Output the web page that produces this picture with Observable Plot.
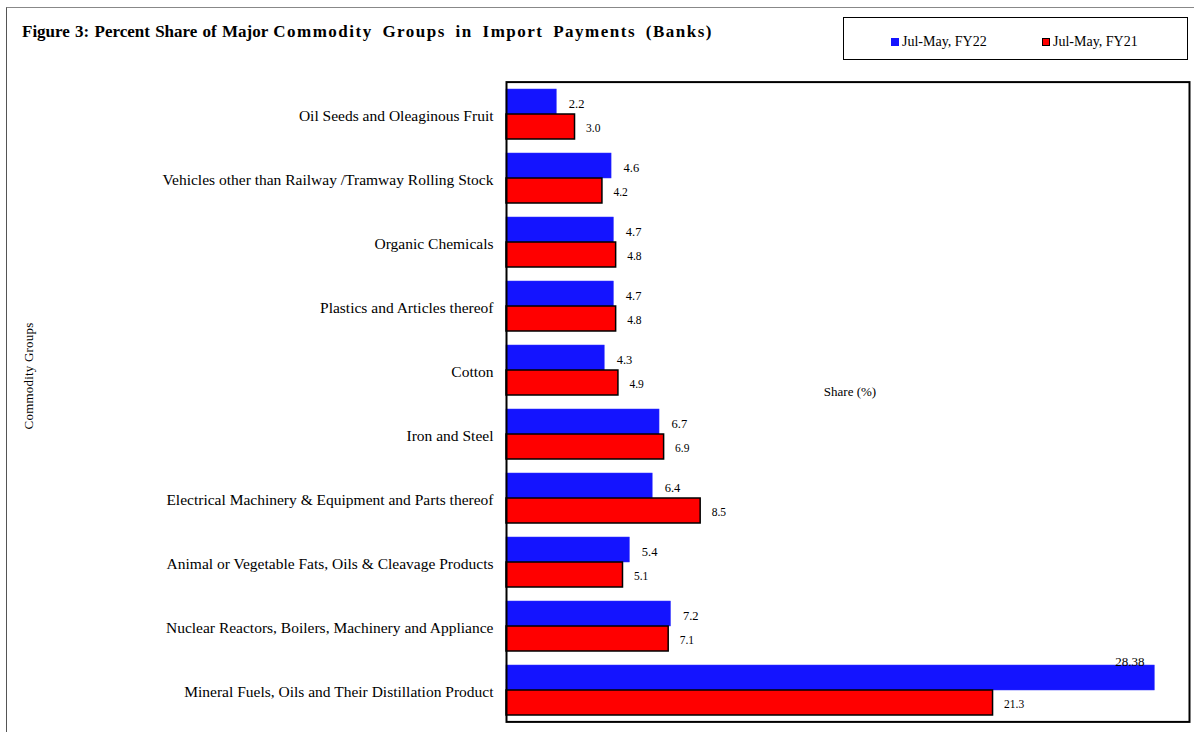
<!DOCTYPE html>
<html><head><meta charset="utf-8">
<script src="https://cdn.jsdelivr.net/npm/d3@7"></script>
<script src="https://cdn.jsdelivr.net/npm/@observablehq/plot@0.6"></script>
<style>
body{margin:0;background:#fff;font-family:"Liberation Serif","Times New Roman",serif;color:#000;}
#wrap{position:relative;width:1194px;height:732px;overflow:hidden;}
#outer{position:absolute;left:6px;top:7px;width:1200px;height:740px;border-left:1.5px solid #555;border-top:1.5px solid #888;box-sizing:border-box;}
#title{position:absolute;left:22px;top:22px;font-weight:bold;font-size:17px;line-height:20px;white-space:nowrap;word-spacing:1px;}
#title .wide{word-spacing:4px;letter-spacing:1.5px;}
#legend{position:absolute;left:843px;top:17px;width:345px;height:43px;border:1.5px solid #000;box-sizing:border-box;font-size:14px;}
.item{position:absolute;top:16px;line-height:16px;white-space:nowrap;}
.sw{display:inline-block;width:8px;height:8px;margin-right:3px;vertical-align:0px;box-sizing:border-box;}
#ylabel{position:absolute;left:28.5px;top:375.5px;transform:translate(-50%,-50%) rotate(-90deg);font-size:13px;letter-spacing:0.2px;white-space:nowrap;}
#chart{position:absolute;left:0;top:0;}
</style></head><body>
<div id="wrap">
  <div id="outer"></div>
  <div id="title">Figure 3: Percent Share of Major <span class="wide">Commodity Groups in Import Payments (Banks)</span></div>
  <div id="legend"></div>
  <div id="ylabel">Commodity Groups</div>
  <div id="chart"></div>
</div>
<script>
const categories = [
  "Oil Seeds and Oleaginous Fruit",
  "Vehicles other than Railway /Tramway Rolling Stock",
  "Organic Chemicals",
  "Plastics and Articles thereof",
  "Cotton",
  "Iron and Steel",
  "Electrical Machinery & Equipment and Parts thereof",
  "Animal or Vegetable Fats, Oils & Cleavage Products",
  "Nuclear Reactors, Boilers, Machinery and Appliance",
  "Mineral Fuels, Oils and Their Distillation Product"
];
const fy22 = [2.2, 4.6, 4.7, 4.7, 4.3, 6.7, 6.4, 5.4, 7.2, 28.38];
const fy21 = [3.0, 4.2, 4.8, 4.8, 4.9, 6.9, 8.5, 5.1, 7.1, 21.3];
const seriesNames = ["Jul-May, FY22", "Jul-May, FY21"];
const seriesColors = ["#1414ff", "#ff0000"];
const xTitle = "Share (%)";

const data = categories.flatMap((c, i) => [
  {category: c, series: seriesNames[0], value: fy22[i]},
  {category: c, series: seriesNames[1], value: fy21[i]}
]);
const fmt = v => v.toFixed(Math.max(1, (String(v).split(".")[1] || "").length));
const blue = data.filter(d => d.series === seriesNames[0]);
const red = data.filter(d => d.series === seriesNames[1]);

// legend
const lg = document.getElementById("legend");
[[890, 0], [1041, 1]].forEach(([x, i]) => {
  const it = document.createElement("div");
  it.className = "item";
  it.style.left = (x - 843) + "px";
  const sw = document.createElement("span");
  sw.className = "sw";
  sw.style.background = seriesColors[i];
  if (i === 1) sw.style.border = "1px solid #000";
  it.appendChild(sw);
  it.appendChild(document.createTextNode(seriesNames[i]));
  lg.appendChild(it);
});

const chart = Plot.plot({
  width: 1194,
  height: 732,
  marginTop: 82,
  marginBottom: 10,
  marginLeft: 506,
  marginRight: 5,
  style: {fontFamily: "'Liberation Serif', 'Times New Roman', serif", background: "transparent", color: "#000"},
  x: {domain: [0, 29.9], axis: null},
  y: {domain: seriesNames, axis: null, padding: 0},
  fy: {domain: categories, paddingInner: 0.2, paddingOuter: 0.1, axis: null},
  marks: [
    Plot.barX(blue, {fy: "category", y: "series", x: "value", fill: seriesColors[0], stroke: "#3030ff", strokeWidth: 0.5}),
    Plot.barX(red, {fy: "category", y: "series", x: "value", fill: seriesColors[1], stroke: "#000", strokeWidth: 1.5}),
    Plot.text(blue.filter(d => d.value < 25), {fy: "category", y: "series", x: "value", text: d => fmt(d.value), dx: 12, dy: 2, textAnchor: "start", fontSize: 12.5, fill: "#000"}),
    Plot.text(red, {fy: "category", y: "series", x: "value", text: d => fmt(d.value), dx: 11, dy: 1, textAnchor: "start", fontSize: 11.5, fill: "#000"}),
    Plot.text(blue.filter(d => d.value >= 25), {fy: "category", y: "series", x: "value", text: d => fmt(d.value), dx: -25, dy: -16, textAnchor: "middle", fontSize: 13, fill: "#000"}),
    Plot.axisFy({tickSize: 0, tickPadding: 13, fontSize: 15.5, dy: 2, label: null, anchor: "left"}),
    Plot.frame({facet: "super", stroke: "#000", strokeWidth: 2, insetTop: -6.4, insetBottom: -6.4}),
    Plot.text([xTitle], {facet: "super", frameAnchor: "middle", text: d => d, dx: 2, dy: -10, fontSize: 13, fill: "#000"})
  ]
});
document.getElementById("chart").appendChild(chart);
</script>
</body></html>
